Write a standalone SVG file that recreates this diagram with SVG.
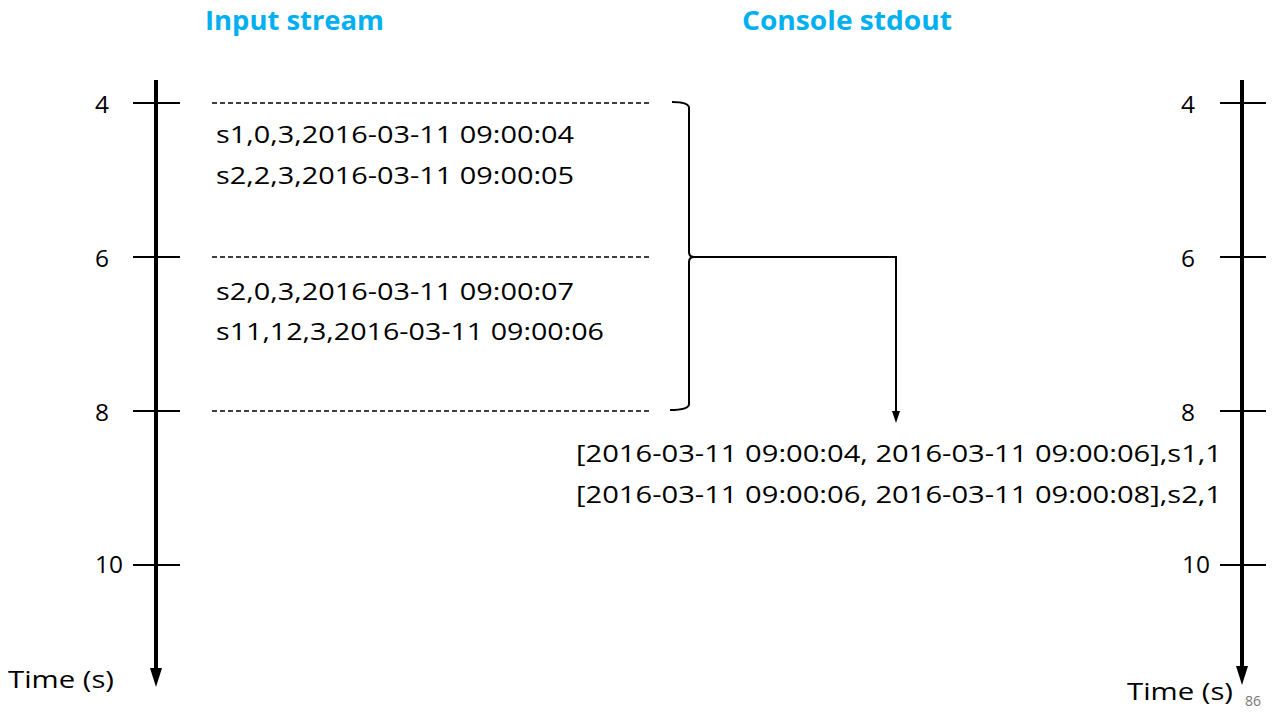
<svg xmlns="http://www.w3.org/2000/svg" width="1275" height="715" viewBox="0 0 1275 715">
<style>
.t{font-family:"Open Sans","Liberation Sans",sans-serif;font-size:24.5px;fill:#000}
.h{font-family:"Open Sans","Liberation Sans",sans-serif;font-size:27px;font-weight:bold;fill:#00B0F0}
.ax{stroke:#000;stroke-width:4;fill:none}
.tk{stroke:#000;stroke-width:2;fill:none}
.dash{stroke:#000;stroke-width:1.4;stroke-dasharray:5 3;fill:none}
.ln{stroke:#000;stroke-width:2;fill:none}
</style>
<rect width="1275" height="715" fill="#fff"/>
<g id="titles">
<text class="h" x="205" y="30" textLength="179" lengthAdjust="spacingAndGlyphs">Input stream</text>
<text class="h" x="742" y="30" textLength="210" lengthAdjust="spacingAndGlyphs">Console stdout</text>
</g>
<g id="left-axis">
<line class="ax" x1="156" y1="80" x2="156" y2="670"/>
<polygon points="150,668 162,668 156,687" fill="#000"/>
<line class="tk" x1="133" y1="103" x2="180" y2="103"/>
<line class="tk" x1="133" y1="257" x2="180" y2="257"/>
<line class="tk" x1="133" y1="411" x2="180" y2="411"/>
<line class="tk" x1="133" y1="565" x2="180" y2="565"/>
<text class="t" x="102" y="113" text-anchor="middle">4</text>
<text class="t" x="102" y="267" text-anchor="middle">6</text>
<text class="t" x="102" y="421" text-anchor="middle">8</text>
<text class="t" x="109" y="573" text-anchor="middle" textLength="28" lengthAdjust="spacingAndGlyphs">10</text>
<text class="t" x="8" y="688" textLength="106" lengthAdjust="spacingAndGlyphs">Time (s)</text>
</g>
<g id="right-axis">
<line class="ax" x1="1242" y1="80" x2="1242" y2="668"/>
<polygon points="1236,666 1248,666 1242,685" fill="#000"/>
<line class="tk" x1="1220" y1="103" x2="1266" y2="103"/>
<line class="tk" x1="1220" y1="257" x2="1266" y2="257"/>
<line class="tk" x1="1220" y1="411" x2="1266" y2="411"/>
<line class="tk" x1="1220" y1="565" x2="1266" y2="565"/>
<text class="t" x="1188" y="113" text-anchor="middle">4</text>
<text class="t" x="1188" y="267" text-anchor="middle">6</text>
<text class="t" x="1188" y="421" text-anchor="middle">8</text>
<text class="t" x="1196" y="573" text-anchor="middle" textLength="28" lengthAdjust="spacingAndGlyphs">10</text>
<text class="t" x="1127" y="700" textLength="106" lengthAdjust="spacingAndGlyphs">Time (s)</text>
<text x="1245" y="706" font-family="Open Sans, Liberation Sans, sans-serif" font-size="14" fill="#777">86</text>
</g>
<g id="input-records">
<line class="dash" x1="212" y1="103" x2="652" y2="103"/>
<line class="dash" x1="212" y1="257" x2="652" y2="257"/>
<line class="dash" x1="212" y1="411" x2="652" y2="411"/>
<text class="t" x="216" y="143" textLength="358" lengthAdjust="spacingAndGlyphs">s1,0,3,2016-03-11 09:00:04</text>
<text class="t" x="216" y="184" textLength="358" lengthAdjust="spacingAndGlyphs">s2,2,3,2016-03-11 09:00:05</text>
<text class="t" x="216" y="300" textLength="358" lengthAdjust="spacingAndGlyphs">s2,0,3,2016-03-11 09:00:07</text>
<text class="t" x="216" y="340" textLength="388" lengthAdjust="spacingAndGlyphs">s11,12,3,2016-03-11 09:00:06</text>
</g>
<g id="output">
<text class="t" x="576" y="462" textLength="646" lengthAdjust="spacingAndGlyphs">[2016-03-11 09:00:04, 2016-03-11 09:00:06],s1,1</text>
<text class="t" x="576" y="503" textLength="646" lengthAdjust="spacingAndGlyphs">[2016-03-11 09:00:06, 2016-03-11 09:00:08],s2,1</text>
</g>
<g id="connectors">
<path class="ln" d="M672,102 Q689,102 689,108 L689,252 Q689,257 694,257 Q689,257 689,262 L689,404 Q689,410 670,410"/>
<path class="ln" d="M694,257 L896,257 L896,412"/>
<polygon points="892,411 900,411 896,423" fill="#000"/>
</g>
</svg>
